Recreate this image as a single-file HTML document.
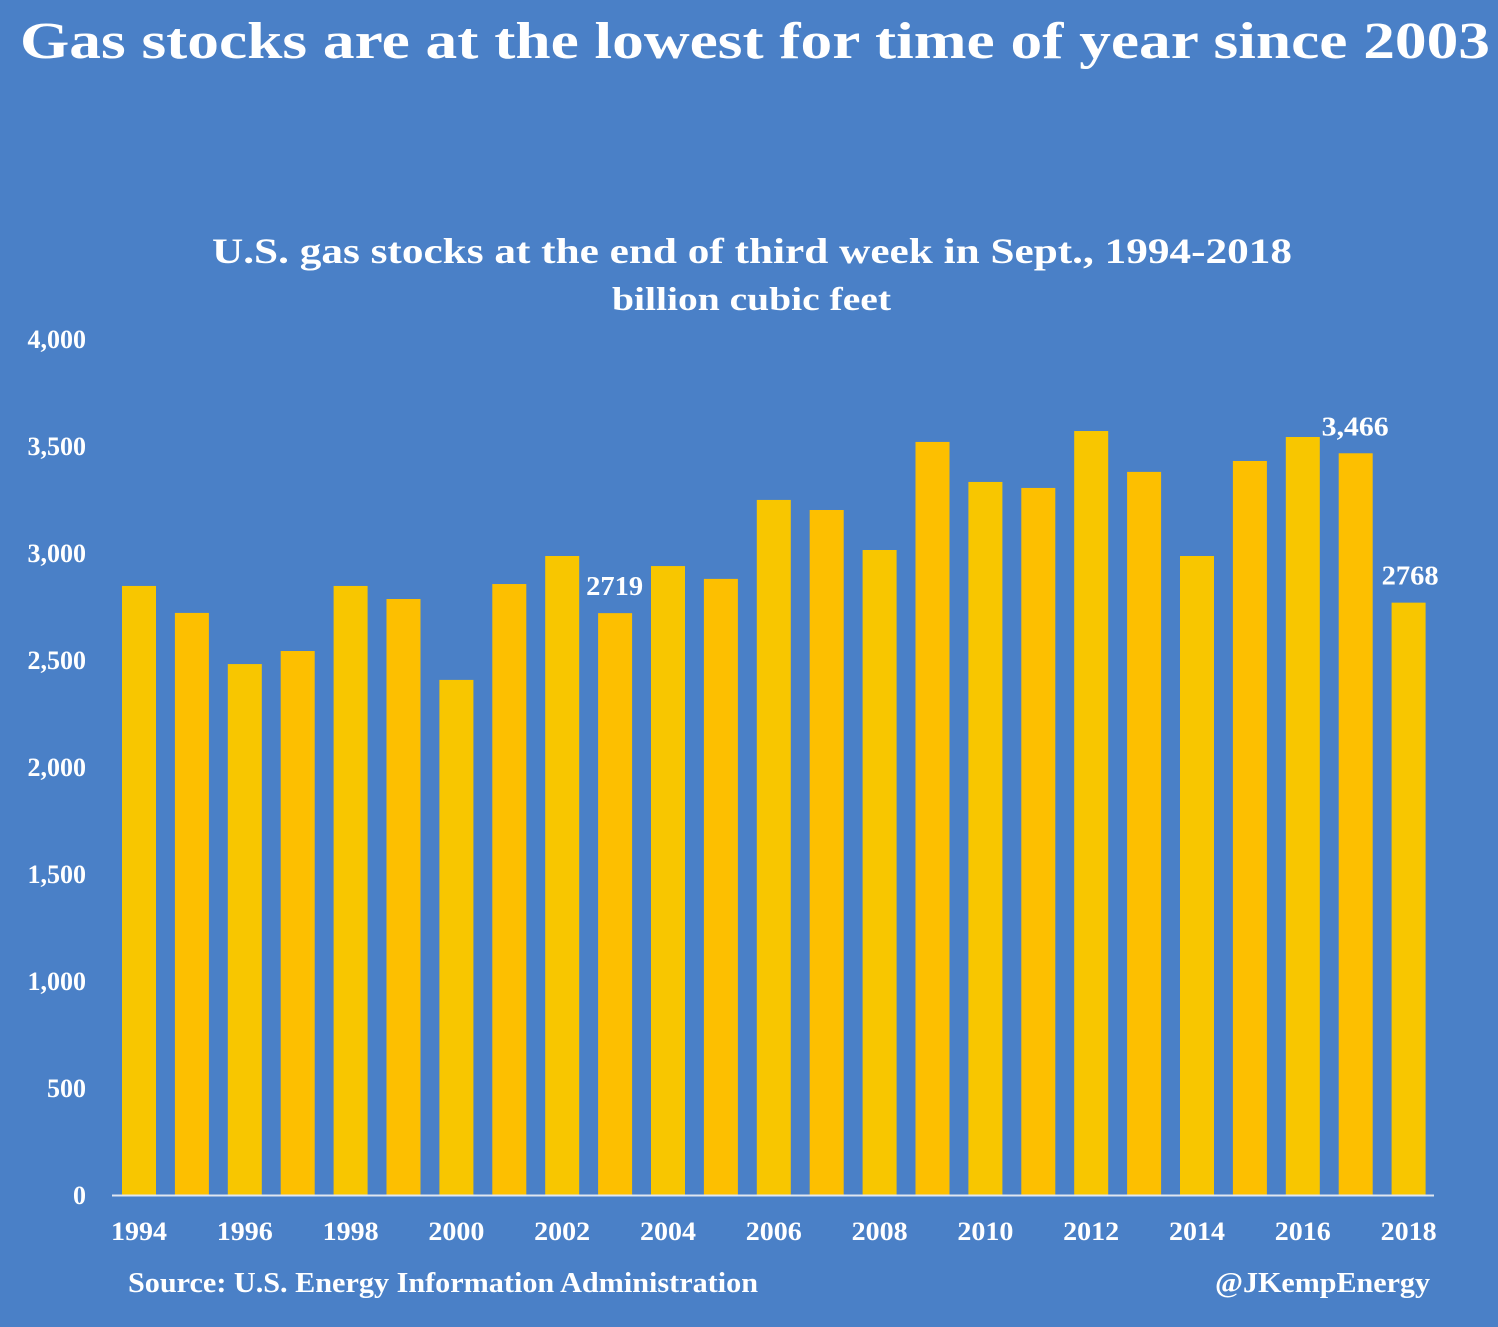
<!DOCTYPE html>
<html><head><meta charset="utf-8"><style>
body{margin:0;background:#4a80c7;}
svg{display:block;font-family:"Liberation Serif",serif;font-weight:bold;fill:#fff;}
</style></head><body>
<svg id="chart" width="1498" height="1327" viewBox="0 0 1498 1327">
<rect width="1498" height="1327" fill="#4a80c7"/>
<text x="20" y="58" font-size="52" textLength="1470" lengthAdjust="spacingAndGlyphs">Gas stocks are at the lowest for time of  year since 2003</text>
<text x="212" y="263" font-size="36" textLength="1080" lengthAdjust="spacingAndGlyphs">U.S. gas stocks at the end of  third week in Sept., 1994-2018</text>
<text x="612" y="310" font-size="33" textLength="279" lengthAdjust="spacingAndGlyphs">billion cubic feet</text>
<g id="yaxis"></g>
<g id="bars"></g>
<g id="xaxis"></g>
<g id="labels"></g>
<line x1="112" y1="1195.5" x2="1434" y2="1195.5" stroke="#dfe6f0" stroke-width="2"/>
<text x="128" y="1292" font-size="28" textLength="630" lengthAdjust="spacingAndGlyphs">Source: U.S. Energy Information Administration</text>
<text x="1215" y="1292" font-size="28" textLength="215" lengthAdjust="spacingAndGlyphs">@JKempEnergy</text>
</svg>
<script>
const years=[1994,1995,1996,1997,1998,1999,2000,2001,2002,2003,2004,2005,2006,2007,2008,2009,2010,2011,2012,2013,2014,2015,2016,2017,2018];
const values=[2846,2720,2481,2542,2846,2785,2407,2855,2986,2719,2939,2879,3248,3201,3014,3519,3332,3304,3570,3379,2986,3430,3542,3466,2768];
const yTicks=[0,500,1000,1500,2000,2500,3000,3500,4000];
const yTickLabels=["0","500","1,000","1,500","2,000","2,500","3,000","3,500","4,000"];
const annotations=[{year:2003,text:"2719"},{year:2017,text:"3,466"},{year:2018,text:"2768"}];
const NS="http://www.w3.org/2000/svg";
const y=v=>1195-v*0.214;
const x=i=>139+i*52.9;
function mk(tag,attrs,parent){const e=document.createElementNS(NS,tag);for(const k in attrs)e.setAttribute(k,attrs[k]);document.getElementById(parent).appendChild(e);return e;}
yTicks.forEach((t,i)=>{const e=mk('text',{x:86,y:y(t)+9,'text-anchor':'end','font-size':26},'yaxis');e.textContent=yTickLabels[i];

});
years.forEach((yr,i)=>{const r=mk('rect',{x:x(i)-17,y:y(values[i]),width:34,height:1195-y(values[i]),fill:i%2?'#fdbf00':'#f8c600'},'bars');


if(i%2===0){const t=mk('text',{x:x(i)-28,y:1240,'font-size':26,textLength:56,lengthAdjust:'spacingAndGlyphs'},'xaxis');t.textContent=yr;

}});
annotations.forEach(a=>{const i=years.indexOf(a.year);
let lx,w;
if(a.year===2003){lx=x(i)-29;w=57;}
else if(a.year===2017){lx=x(i)-34;w=67;}
else{lx=x(i)-27;w=57;}
const t=mk('text',{x:lx,y:y(values[i])-18,'font-size':27,textLength:w,lengthAdjust:'spacingAndGlyphs'},'labels');
t.textContent=a.text;

});
</script>
</body></html>
